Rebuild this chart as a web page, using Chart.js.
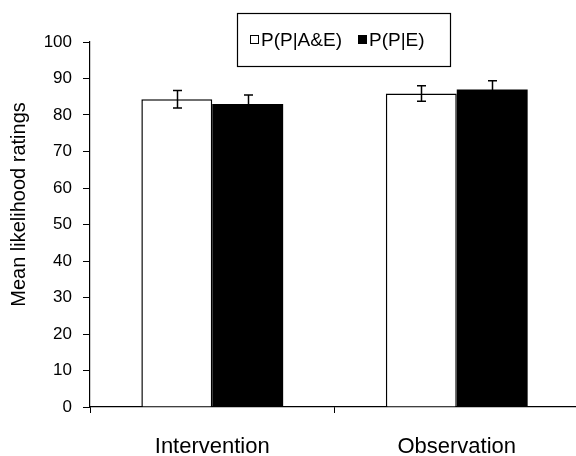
<!DOCTYPE html>
<html>
<head>
<meta charset="utf-8">
<script src="https://cdn.jsdelivr.net/npm/chart.js@4.4.1/dist/chart.umd.min.js"></script>
<style>
html,body{margin:0;padding:0;background:#fff;overflow:hidden;}
#wrap{width:584px;height:456px;}
</style>
</head>
<body>
<div id="wrap"><canvas id="c" width="584" height="456"></canvas></div>
<script>
const categories = ["Intervention", "Observation"];
const seriesNames = ["P(P|A&E)", "P(P|E)"];
const seriesAE = [84.3, 85.9];
const seriesE = [83.0, 87.0];
const errorsAE = [2.4, 2.1];
const errorsE = [2.5, 2.4];
const yTicks = [0, 10, 20, 30, 40, 50, 60, 70, 80, 90, 100];
const yTitle = "Mean likelihood ratings";

const FONT = "'Liberation Sans', Arial, sans-serif";

const errorBars = {
  id: 'errorBars',
  afterDatasetsDraw(chart) {
    const ctx = chart.ctx;
    const ys = chart.scales.y;
    const errs = [errorsAE, errorsE];
    ctx.save();
    ctx.strokeStyle = '#000';
    ctx.lineWidth = 1.5;
    chart.data.datasets.forEach((ds, i) => {
      const meta = chart.getDatasetMeta(i);
      meta.data.forEach((bar, j) => {
        const v = ds.data[j], e = errs[i][j];
        const x = Math.round(bar.x) + 0.5;
        const yt = ys.getPixelForValue(v + e);
        const yb = ys.getPixelForValue(v - e);
        ctx.beginPath();
        ctx.moveTo(x, yt); ctx.lineTo(x, yb);
        ctx.moveTo(x - 4.5, yt); ctx.lineTo(x + 4.5, yt);
        ctx.moveTo(x - 4.5, yb); ctx.lineTo(x + 4.5, yb);
        ctx.stroke();
      });
    });
    ctx.restore();
  }
};

const decorations = {
  id: 'decorations',
  afterDraw(chart) {
    const ctx = chart.ctx;
    const area = chart.chartArea;
    ctx.save();
    // y-axis title
    ctx.translate(19, (area.top + area.bottom) / 2 - 20);
    ctx.rotate(-Math.PI / 2);
    ctx.font = "20px " + FONT;
    ctx.fillStyle = '#000';
    ctx.textAlign = 'center';
    ctx.textBaseline = 'middle';
    ctx.fillText(yTitle, 0, 0);
    ctx.restore();

    // legend box
    ctx.save();
    const bx = 237.5, by = 13.5, bw = 213, bh = 53;
    ctx.fillStyle = '#fff';
    ctx.fillRect(bx, by, bw, bh);
    ctx.strokeStyle = '#000';
    ctx.lineWidth = 1.2;
    ctx.strokeRect(bx, by, bw, bh);
    ctx.font = "19px " + FONT;
    ctx.textBaseline = 'middle';
    ctx.fillStyle = '#000';
    const cy = 40;
    ctx.lineWidth = 1;
    ctx.strokeRect(250.5, cy - 4.5, 8, 8);
    ctx.fillText(seriesNames[0], 261, cy + 1);
    ctx.fillRect(358, cy - 5, 9, 9);
    ctx.fillText(seriesNames[1], 369, cy + 1);
    ctx.restore();
  }
};

new Chart(document.getElementById('c'), {
  type: 'bar',
  data: {
    labels: categories,
    datasets: [
      { label: seriesNames[0], data: seriesAE, backgroundColor: '#fff', borderColor: '#000', borderWidth: 1.5, borderSkipped: 'bottom' },
      { label: seriesNames[1], data: seriesE, backgroundColor: '#000', borderColor: '#000', borderWidth: 0, borderSkipped: 'bottom' }
    ]
  },
  options: {
    responsive: false,
    animation: false,
    devicePixelRatio: 1,
    layout: { padding: { top: 42, right: 5, bottom: 0, left: 44 } },
    plugins: { legend: { display: false }, tooltip: { enabled: false } },
    datasets: { bar: { categoryPercentage: 0.58, barPercentage: 1.0 } },
    scales: {
      x: {
        afterFit(axis) { axis.height = 49; },
        grid: { display: true, drawOnChartArea: false, drawTicks: true, tickLength: 6, color: '#000', tickColor: '#000', offset: true },
        border: { display: true, color: '#000', width: 1.2 },
        ticks: { color: '#000', font: { family: FONT, size: 22 }, padding: 21, maxRotation: 0 }
      },
      y: {
        min: 0, max: 100,
        afterFit(axis) { axis.width = 46; },
        afterBuildTicks(axis) { axis.ticks = yTicks.map(v => ({ value: v })); },
        grid: { display: true, drawOnChartArea: false, drawTicks: true, tickLength: 7, color: '#000', tickColor: '#000' },
        border: { display: true, color: '#000', width: 1.2 },
        ticks: { color: '#000', font: { family: FONT, size: 17 }, padding: 11 }
      }
    }
  },
  plugins: [errorBars, decorations]
});
</script>
</body>
</html>
